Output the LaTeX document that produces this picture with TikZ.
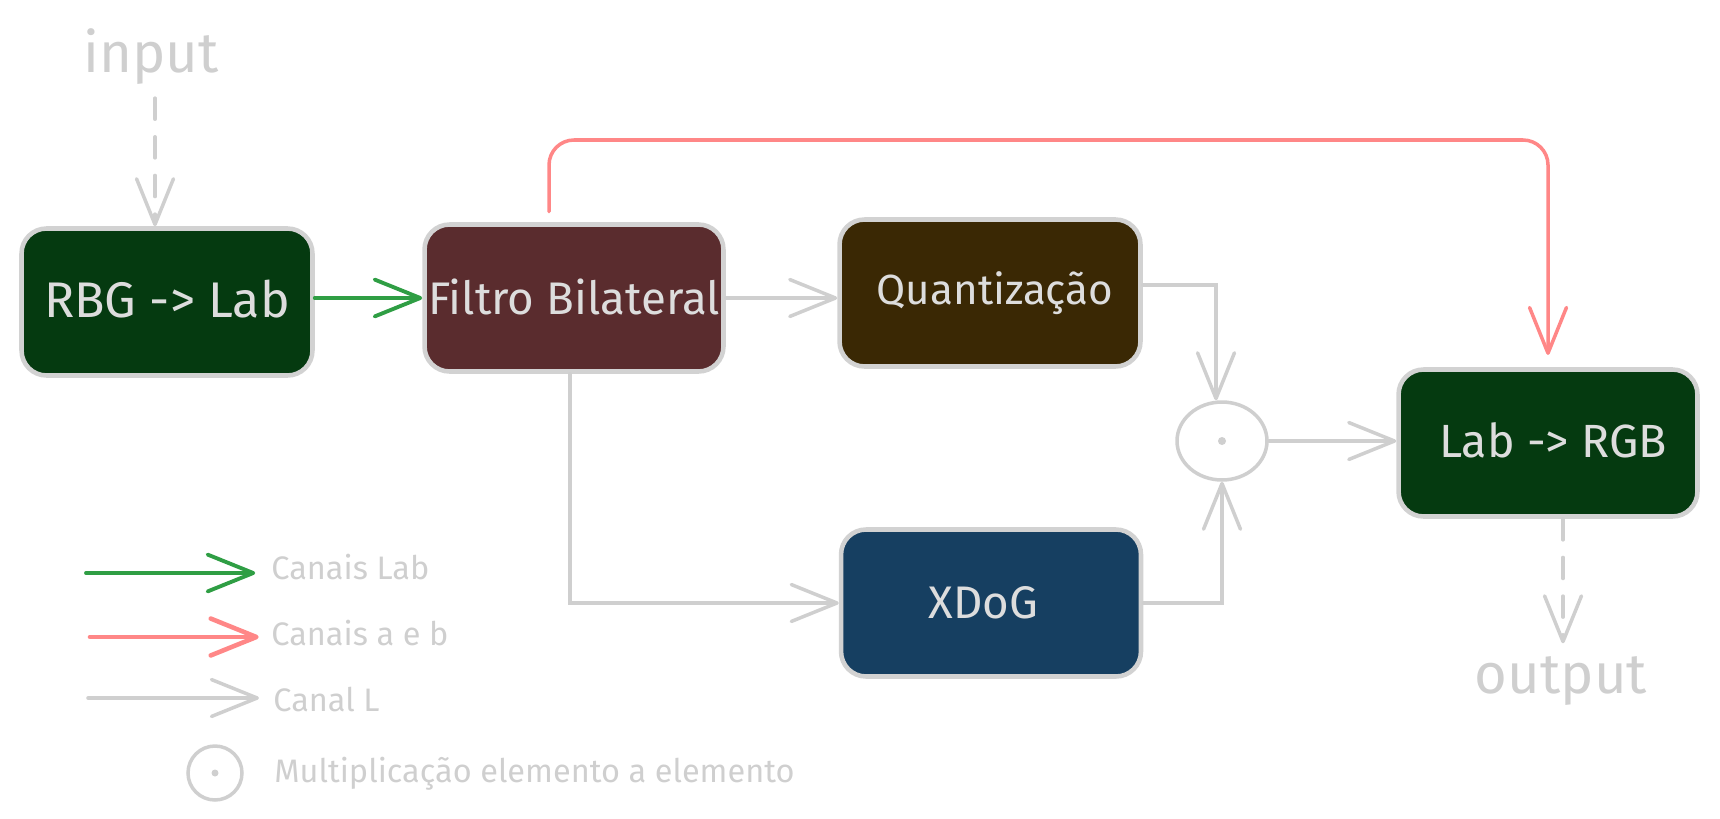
\documentclass[tikz,border=0pt]{standalone}
\usepackage{fontspec}
\setmainfont{Fira Sans}
\usetikzlibrary{arrows.meta,calc,shapes.geometric}
\definecolor{lgray}{HTML}{CFCFCF}
\definecolor{bgray}{HTML}{D2D2D2}
\definecolor{tgray}{HTML}{DDDDDD}
\definecolor{exgreen}{HTML}{2F9E44}
\definecolor{exred}{HTML}{FF8787}
\definecolor{boxgreen}{HTML}{053A10}
\definecolor{boxbrown}{HTML}{5A2C2E}
\definecolor{boxolive}{HTML}{3A2804}
\definecolor{boxblue}{HTML}{163F61}
\begin{document}
\begin{tikzpicture}[x=0.02cm,y=-0.02cm,
  procbox/.style={draw=bgray, line width=2.6pt, rounded corners=0.5cm,
    minimum width=#1, minimum height=2.94cm, text=tgray, inner sep=0pt,
    font=\fontsize{25}{30}\selectfont},
  io/.style={text=lgray, font=\fontsize{32}{36}\selectfont},
  legtext/.style={text=lgray, anchor=west, inner sep=0pt, font=\fontsize{18.5}{22}\selectfont},
  barb/.style={-{Straight Barb[length=26pt,width=21pt,round]}},
  conn/.style={draw=lgray, line width=2pt, line cap=round, barb},
  greenconn/.style={draw=exgreen, line width=2.2pt, line cap=round, barb},
  redconn/.style={draw=exred, line width=2pt, line cap=round, barb},
  mult/.style={ellipse, draw=lgray, line width=2pt, fill=white, inner sep=0pt},
  multdot/.style={circle, fill=lgray, inner sep=0pt, minimum size=0.16cm}
]
\useasboundingbox (0,0) rectangle (1720,818);

% main boxes
\node[procbox=5.82cm, fill=boxgreen, font=\fontsize{28.5}{32}\selectfont] (rgb) at (167,302)
  {\raisebox{0.12cm}{RBG -> Lab}};
\node[procbox=5.98cm, fill=boxbrown, font=\fontsize{26}{30}\selectfont] (filt) at (574,298)
  {\raisebox{0.04cm}{Filtro Bilateral}};
\node[procbox=6.02cm, fill=boxolive, font=\fontsize{24}{30}\selectfont] (quant) at (990,293)
  {\hspace*{0.2cm}Quantização};
\node[procbox=6.0cm, fill=boxblue, font=\fontsize{26}{30}\selectfont] (xdog) at (991,603)
  {XDoG\hspace*{0.3cm}};
\node[procbox=5.98cm, fill=boxgreen, font=\fontsize{26.5}{30}\selectfont] (lab) at (1548,443)
  {\raisebox{0.1cm}{\hspace*{0.2cm}Lab -> RGB}};

\node[mult, minimum width=1.8cm, minimum height=1.56cm] (circ) at (1222,441) {};
\node[multdot] (cdot) at (circ.center) {};

\node[io] (in) at (151,57) {input};
\node[io] (out) at (1561,681) {output};

\coordinate (redtop) at (1000,140);

% connectors
\draw[conn, dash pattern=on 12pt off 10pt, shorten <=4pt]
  ([xshift=0.08cm]in.south) -- ([xshift=0.08cm]in.south |- rgb.north);
\draw[greenconn] (rgb.east |- filt.west) -- (filt.west);
\draw[conn] (filt.east) -- (filt.east -| quant.west);
\draw[conn] ([xshift=-0.08cm]filt.south) |- (xdog.west);
\draw[conn] ([yshift=0.16cm]quant.east) -| ([xshift=-0.12cm]circ.north);
\draw[conn] (xdog.east) -| (circ.south);
\draw[conn] (circ.east) -- (circ.east -| lab.west);
\draw[redconn, rounded corners=0.5cm, shorten <=6pt, shorten >=7pt]
  ([xshift=-0.5cm]filt.north) |- (redtop) -| (lab.north);
\draw[conn, dash pattern=on 12pt off 10pt, shorten >=4pt]
  ([xshift=0.3cm]lab.south) -- ([xshift=0.3cm]lab.south |- out.north);

% legend
\node[legtext] (l1) at (271,567) {Canais Lab};
\node[legtext] (l2) at (271,633) {Canais a e b};
\node[legtext] (l3) at (273,699) {Canal L};
\node[legtext] (l4) at (274,774) {Multiplicação elemento a elemento};
\coordinate (g1) at (86,573);
\coordinate (g2) at (90,637);
\coordinate (g3) at (88,698);
\draw[greenconn, shorten >=9pt] (g1) -- (g1 -| l1.west);
\draw[redconn, line width=2.6pt, shorten >=7pt] (g2) -- (g2 -| l2.west);
\draw[conn, shorten >=8pt] (g3) -- (g3 -| l3.west);
\node[mult, minimum size=1.08cm, fill=none] (lc) at (215,773) {};
\node[multdot, minimum size=0.14cm] (lcdot) at (lc.center) {};
\end{tikzpicture}
\end{document}
